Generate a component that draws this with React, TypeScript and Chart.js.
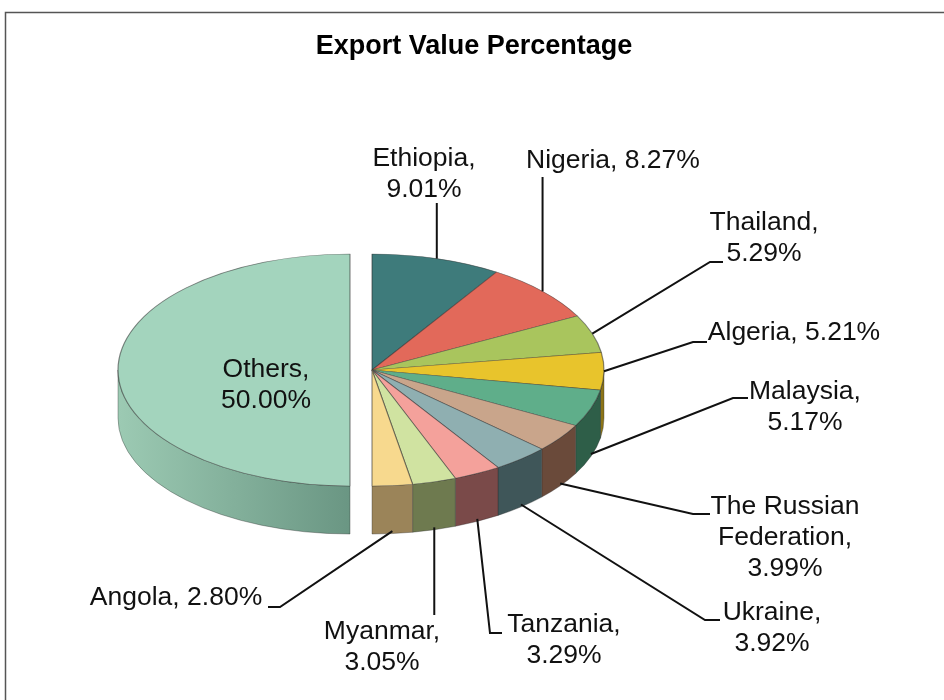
import React, { useEffect, useRef } from 'react';
import { Chart, registerables } from 'chart.js';

Chart.register(...registerables);

// ---------- data ----------
const TITLE = 'Export Value Percentage';
const COUNTRIES = [
  'Ethiopia',
  'Nigeria',
  'Thailand',
  'Algeria',
  'Malaysia',
  'The Russian Federation',
  'Ukraine',
  'Tanzania',
  'Myanmar',
  'Angola',
  'Others',
];
const SHARES = [9.01, 8.27, 5.29, 5.21, 5.17, 3.99, 3.92, 3.29, 3.05, 2.8, 50.0];

// ---------- styles ----------
const TOP_COLORS = [
  '#3e7b7b', '#e2695a', '#a9c55d', '#e8c42c', '#5fae8a', '#c9a58b',
  '#8fafb1', '#f4a19b', '#d0e3a1', '#f7d98e', '#a3d4bd',
];
const SIDE_COLORS = [
  '#2a5656', '#8e3f33', '#6b7d35', '#8c7418', '#2e5e48', '#6a4a3a',
  '#3f5659', '#7a4a49', '#6e7a4f', '#9b8459', '#7aa590',
];
const EXPLODE = [0, 0, 0, 0, 0, 0, 0, 0, 0, 0, 22];

const TILT = 0.5; // vertical squash of the pie top face
const DEPTH = 48; // thickness of the 3D pie
const LINE_H = 31;
const LABEL_FONT = '26.5px "Liberation Sans", Arial, sans-serif';
const TITLE_FONT = 'bold 27px "Liberation Sans", Arial, sans-serif';

type Mode = 'single' | 'double' | 'triple';
type Pt = [number | null, number];
interface LabelSpec {
  mode: Mode;
  x: number;
  y: number;
  path: Pt[];
}
const LABELS: LabelSpec[] = [
  { mode: 'double', x: 424, y: 159, path: [[null, 203]] },
  { mode: 'single', x: 613, y: 161, path: [[null, 177]] },
  { mode: 'double', x: 764, y: 223, path: [[723, 262], [710, 262]] },
  { mode: 'single', x: 794, y: 333, path: [[707, 342], [693, 342]] },
  { mode: 'double', x: 805, y: 392, path: [[748, 398], [733, 398]] },
  { mode: 'triple', x: 785, y: 507, path: [[710, 514], [693, 514]] },
  { mode: 'double', x: 772, y: 613, path: [[720, 620], [705, 620]] },
  { mode: 'double', x: 564, y: 625, path: [[502, 633], [490, 633]] },
  { mode: 'double', x: 382, y: 632, path: [[null, 615]] },
  { mode: 'single', x: 176, y: 598, path: [[268, 607], [280, 607]] },
  { mode: 'double', x: 266, y: 370, path: [] },
];

function labelLines(name: string, value: number, mode: Mode): string[] {
  const v = value.toFixed(2) + '%';
  if (mode === 'single') return [name + ', ' + v];
  if (mode === 'double') return [name + ',', v];
  const k = name.lastIndexOf(' ');
  return [name.slice(0, k), name.slice(k + 1) + ',', v];
}

function arcGeom(arc: any, i: number) {
  const p = arc.getProps(['x', 'y', 'startAngle', 'endAngle', 'outerRadius'], true);
  const mid = (p.startAngle + p.endAngle) / 2;
  const off = EXPLODE[i] || 0;
  return {
    cx: p.x + Math.cos(mid) * off,
    cy: p.y + Math.sin(mid) * off * TILT,
    R: p.outerRadius,
    start: p.startAngle,
    end: p.endAngle,
    mid,
    off,
  };
}

const pie3d = {
  id: 'pie3d',
  beforeDraw(chart: any) {
    const ctx = chart.ctx;
    ctx.save();
    ctx.strokeStyle = '#555';
    ctx.lineWidth = 1.5;
    ctx.beginPath();
    ctx.moveTo(5.5, 702);
    ctx.lineTo(5.5, 12.5);
    ctx.lineTo(946, 12.5);
    ctx.stroke();
    ctx.fillStyle = '#000';
    ctx.font = TITLE_FONT;
    ctx.textAlign = 'center';
    ctx.textBaseline = 'middle';
    ctx.fillText(TITLE, 474, 47);
    ctx.restore();
  },
  beforeDatasetsDraw(chart: any) {
    const ctx = chart.ctx;
    const meta = chart.getDatasetMeta(0);
    ctx.save();
    meta.data.forEach((arc: any, i: number) => {
      const g = arcGeom(arc, i);
      // pull exploded slices out along their bisector (full distance, no radius change)
      if (g.off && !arc.__exploded) {
        const orig = arc.draw;
        const dx = Math.cos(g.mid) * g.off;
        const dy = Math.sin(g.mid) * g.off;
        arc.draw = function (c: CanvasRenderingContext2D) {
          c.save();
          c.translate(dx, dy);
          orig.call(this, c);
          c.restore();
        };
        arc.__exploded = true;
      }
      const s = Math.max(g.start, 0);
      const e = Math.min(g.end, Math.PI);
      if (e <= s) return;
      const ry = g.R * TILT;
      ctx.beginPath();
      ctx.ellipse(g.cx, g.cy, g.R, ry, 0, s, e, false);
      ctx.lineTo(g.cx + g.R * Math.cos(e), g.cy + ry * Math.sin(e) + DEPTH);
      ctx.ellipse(g.cx, g.cy + DEPTH, g.R, ry, 0, e, s, true);
      ctx.closePath();
      if (i === SHARES.length - 1) {
        const grad = ctx.createLinearGradient(g.cx - g.R, 0, g.cx, 0);
        grad.addColorStop(0, '#9ccab3');
        grad.addColorStop(1, '#6a9683');
        ctx.fillStyle = grad;
      } else {
        ctx.fillStyle = SIDE_COLORS[i];
      }
      ctx.fill();
      ctx.strokeStyle = 'rgba(40,40,40,0.35)';
      ctx.lineWidth = 1;
      ctx.stroke();
    });
    ctx.restore();
    // squash the top faces drawn by Chart.js into an ellipse
    const a0 = meta.data[0];
    const cx = a0.x;
    const cy = a0.y;
    ctx.save();
    ctx.translate(cx, cy);
    ctx.scale(1, TILT);
    ctx.translate(-cx, -cy);
  },
  afterDatasetsDraw(chart: any) {
    const ctx = chart.ctx;
    ctx.restore();
    const meta = chart.getDatasetMeta(0);
    ctx.save();
    ctx.font = LABEL_FONT;
    ctx.textAlign = 'center';
    ctx.textBaseline = 'middle';
    ctx.fillStyle = '#111';
    ctx.strokeStyle = '#111';
    ctx.lineWidth = 2;
    meta.data.forEach((arc: any, i: number) => {
      const spec = LABELS[i];
      const g = arcGeom(arc, i);
      const sn = Math.sin(g.mid);
      const ax = g.cx + g.R * Math.cos(g.mid);
      const ay = g.cy + g.R * TILT * sn + (sn > 0.2 ? DEPTH * 0.95 : 0);
      if (spec.path.length) {
        ctx.beginPath();
        spec.path.forEach((pt, k) => {
          const x = pt[0] === null ? ax : pt[0];
          if (k === 0) ctx.moveTo(x, pt[1]);
          else ctx.lineTo(x, pt[1]);
        });
        ctx.lineTo(ax, ay);
        ctx.stroke();
      }
      const lines = labelLines(COUNTRIES[i], SHARES[i], spec.mode);
      lines.forEach((t, k) => ctx.fillText(t, spec.x, spec.y + k * LINE_H));
    });
    ctx.restore();
  },
};

export default function App() {
  const ref = useRef<HTMLCanvasElement | null>(null);
  useEffect(() => {
    if (!ref.current) return;
    const chart = new Chart(ref.current, {
      type: 'pie',
      data: {
        labels: COUNTRIES,
        datasets: [
          {
            data: SHARES,
            backgroundColor: TOP_COLORS,
            borderColor: 'rgba(45,45,45,0.55)',
            borderWidth: 1.2,
            radius: 232,
            clip: false,
          } as any,
        ],
      },
      options: {
        animation: false,
        responsive: false,
        layout: { padding: { left: 0, right: 200, top: 40, bottom: 0 } },
        plugins: {
          legend: { display: false },
          tooltip: { enabled: false },
          title: { display: false },
        },
      },
      plugins: [pie3d as any],
    });
    return () => chart.destroy();
  }, []);
  return (
    <div style={{ position: 'absolute', left: 0, top: 0, width: 944, height: 700, background: '#fff' }}>
      <canvas ref={ref} width={944} height={700} style={{ width: 944, height: 700, display: 'block' }} />
    </div>
  );
}
